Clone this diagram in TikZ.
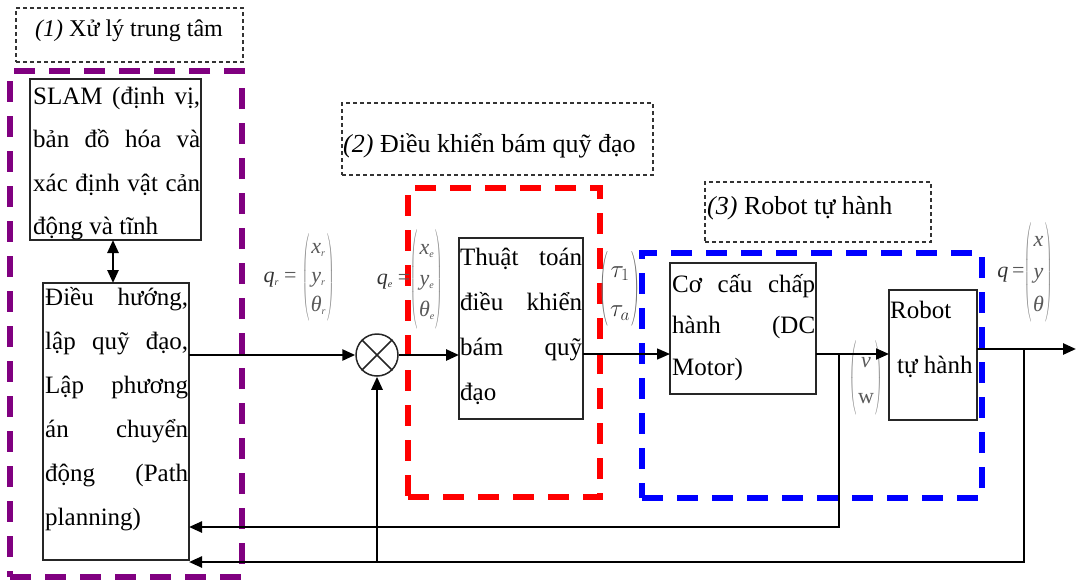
\documentclass[tikz,border=0pt]{standalone}
\usepackage{fontspec}
\setmainfont{Liberation Serif}
\usepackage{amsmath}
\usepackage{graphicx}
\usetikzlibrary{arrows.meta}
\definecolor{purp}{RGB}{128,0,128}
\newcommand{\jline}[2]{\hbox to #1{\rule{0pt}{22pt}#2}}
\newsavebox{\matbox}
% #1 = horizontal scale of the parentheses, #2 = paren colour, #3 = rows
\newcommand{\pmat}[3]{%
 \sbox{\matbox}{\begin{tabular}{@{\hspace{1pt}}c@{\hspace{1pt}}}#3\end{tabular}}%
 \scalebox{#1}[1]{\color{#2}$\left(\vphantom{\usebox{\matbox}}\right.$}%
 \usebox{\matbox}%
 \scalebox{#1}[1]{\color{#2}$\left.\vphantom{\usebox{\matbox}}\right)$}}
\newcommand{\sbs}[2]{\textit{#1}\raisebox{-3pt}{\fontsize{10}{10}\selectfont\textit{#2}}}
\begin{document}
\begin{tikzpicture}[x=1pt,y=-1pt,
 blk/.style={draw=black!85, line width=1.2pt, inner sep=0pt, outer sep=0pt, anchor=north west},
 txt/.style={inner sep=0pt, anchor=north west, align=left},
 lbl/.style={draw=black!80, line width=1.1pt, dash pattern=on 4pt off 3pt, inner sep=0pt, outer sep=0pt, anchor=north west},
 lbltxt/.style={anchor=base west, inner sep=0pt, font=\fontsize{26}{30}\selectfont},
 grp/.style={line width=5.5pt, dash pattern=on 21pt off 14pt, inner sep=0pt, outer sep=0pt, anchor=north west},
 arw/.style={-{Triangle[length=13pt,width=11pt]}},
 flow/.style={arw, line width=2.6pt},
 fback/.style={arw, line width=2.4pt},
 mlab/.style={inner sep=0pt, text=black!65},
]
\useasboundingbox (0,0) rectangle (1076,584);

% group frames
\node[grp, draw=purp, minimum width=232pt, minimum height=506pt] (g1) at (10,71) {};
\node[grp, draw=red, minimum width=192pt, minimum height=309pt] (g2) at (408,188) {};
\node[grp, draw=blue, minimum width=340pt, minimum height=245pt] (g3) at (642,253) {};

% labels
\node[lbl, minimum width=227pt, minimum height=54pt] (lab1) at (16,8) {};
\node[lbl, minimum width=311pt, minimum height=72pt] (lab2) at (342,103) {};
\node[lbl, minimum width=226pt, minimum height=60pt] (lab3) at (705,182) {};
\node[lbltxt, font=\fontsize{24}{28}\selectfont] (lab1t) at (35,36) {\textit{(1)} Xử lý trung tâm};
\node[lbltxt] (lab2t) at (343,152) {\textit{(2)} Điều khiển bám quỹ đạo};
\node[lbltxt] (lab3t) at (707,214) {\textit{(3)} Robot tự hành};

% blocks
\node[blk, minimum width=171pt, minimum height=161pt] (slam) at (30,79) {};
\node[blk, minimum width=146pt, minimum height=277pt] (navi) at (43,283) {};
\node[blk, minimum width=124pt, minimum height=181pt] (ctrl) at (459,238) {};
\node[blk, minimum width=146pt, minimum height=131pt] (act) at (670,263) {};
\node[blk, minimum width=88pt, minimum height=130pt] (robot) at (889,290) {};

% block texts
\node[txt, font=\fontsize{25}{43.5}\selectfont] (slamt) at (33,82)
 {\jline{167pt}{SLAM\hfill (định\hfill vị,}\\
  \jline{167pt}{bản\hfill đồ\hfill hóa\hfill và}\\
  \jline{167pt}{xác\hfill định\hfill vật\hfill cản}\\
  \jline{167pt}{động và tĩnh\hfill}};
\node[txt, font=\fontsize{25}{44}\selectfont] (navit) at (45,283)
 {\jline{143pt}{Điều\hfill hướng,}\\
  \jline{143pt}{lập\hfill quỹ\hfill đạo,}\\
  \jline{143pt}{Lập\hfill phương}\\
  \jline{143pt}{án\hfill chuyển}\\
  \jline{143pt}{động\hfill (Path}\\
  \jline{143pt}{planning)\hfill}};
\node[txt, font=\fontsize{25}{45}\selectfont] (ctrlt) at (460,243)
 {\jline{122pt}{Thuật\hfill toán}\\
  \jline{122pt}{điều\hfill khiển}\\
  \jline{122pt}{bám\hfill quỹ}\\
  \jline{122pt}{đạo\hfill}};
\node[txt, font=\fontsize{25}{41.5}\selectfont] (actt) at (672,270)
 {\jline{143pt}{Cơ\hfill cấu\hfill chấp}\\
  \jline{143pt}{hành\hfill (DC}\\
  \jline{143pt}{Motor)\hfill}};
\node[txt, font=\fontsize{25}{55}\selectfont] (robott) at (890,296)
 {\jline{85pt}{Robot\hfill}\\
  \jline{85pt}{\hspace{7pt}tự hành\hfill}};

% math labels
\node[mlab, font=\fontsize{22}{26}\selectfont] (qr) at (299,277)
 {\renewcommand{\arraystretch}{1.12}{\color{black!80}\sbs{q}{r}} = \pmat{0.4}{black!45}{\sbs{x}{r}\\\sbs{y}{r}\\\sbs{θ}{r}}};
\node[mlab, font=\fontsize{22}{26}\selectfont] (qe) at (410,279)
 {\renewcommand{\arraystretch}{1.2}{\color{black!80}\sbs{q}{e}} =\pmat{0.4}{black!45}{\sbs{x}{e}\\\sbs{y}{e}\\\sbs{θ}{e}}};
\node[mlab, text=black!80, font=\fontsize{24}{29}\selectfont] (tau) at (620,289)
 {\renewcommand{\arraystretch}{1.35}\pmat{0.45}{black!55}{$\tau_1$\\$\tau_a$}};
\node[mlab, font=\fontsize{22}{26}\selectfont] (vw) at (866,378)
 {\renewcommand{\arraystretch}{1.4}\pmat{0.4}{black!45}{\textit{v}\\w}};
\node[mlab, font=\fontsize{22}{26}\selectfont] (qq) at (1025,272)
 {\renewcommand{\arraystretch}{1.25}{\color{black!80}\textit{q}}\,=\pmat{0.4}{black!45}{\textit{x}\\\textit{y}\\\textit{θ}}};

% summing junction
\node[circle, draw=black!85, line width=1.5pt, minimum size=42pt, inner sep=0pt] (sum) at (377,355) {};
\draw[line width=1.5pt, black!85] (sum.north west) -- (sum.south east) (sum.north east) -- (sum.south west);

% helper coordinates
\coordinate (y354) at (0,354);
\coordinate (y349) at (0,349);
\coordinate (y527) at (0,527);
\coordinate (y562) at (0,562);
\coordinate (x113) at (113,0);
\coordinate (fb1) at (839,354);
\coordinate (fb2) at (1024,349);
\coordinate (out) at (1076,349);

% connectors
\draw[flow] (navi.east |- sum.west) -- (sum.west);
\draw[flow] (sum.east) -- (sum.east -| ctrl.west);
\draw[arw, line width=1.4pt] (ctrl.east |- y354) -- (act.west |- y354);
\draw[arw, line width=2pt] (act.east |- y354) -- (robot.west |- y354);
\draw[flow] (robot.east |- y349) -- (out);
\draw[fback] (fb1) |- (navi.east |- y527);
\draw[fback] (fb2) |- (navi.east |- y562);
\draw[flow] (sum.south |- y562) -- (sum.south);
\draw[line width=2.6pt, {Triangle[length=13pt,width=11pt]}-{Triangle[length=13pt,width=11pt]}] (x113 |- slam.south) -- (x113 |- navi.north);
\end{tikzpicture}
\end{document}
